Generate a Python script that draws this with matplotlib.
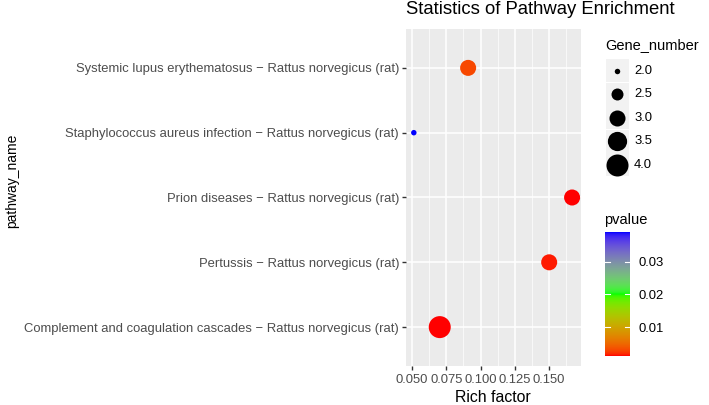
import numpy as np
import matplotlib
matplotlib.use('Agg')
import matplotlib.pyplot as plt
from matplotlib.colors import ListedColormap, Normalize
from matplotlib.patches import Rectangle

plt.rcParams['font.family'] = ['Liberation Sans', 'DejaVu Sans']

# data
pathways = ['Complement and coagulation cascades \u2212 Rattus norvegicus (rat)',
            'Pertussis \u2212 Rattus norvegicus (rat)',
            'Prion diseases \u2212 Rattus norvegicus (rat)',
            'Staphylococcus aureus infection \u2212 Rattus norvegicus (rat)',
            'Systemic lupus erythematosus \u2212 Rattus norvegicus (rat)']
rich_factor = [0.0702, 0.150, 0.1667, 0.0513, 0.0909]
gene_number = [4, 3, 3, 2, 3]
pvalue = [0.0012, 0.0014, 0.0011, 0.0392, 0.0030]

x_ticks = [0.050, 0.075, 0.100, 0.125, 0.150]
size_breaks = [2.0, 2.5, 3.0, 3.5, 4.0]
p_ticks = [0.01, 0.02, 0.03]


# ggplot style gradient (red -> green -> blue interpolated in Lab)
def srgb_to_lab(c):
    c = np.asarray(c, float)
    lin = np.where(c <= 0.04045, c / 12.92, ((c + 0.055) / 1.055) ** 2.4)
    m = np.array([[0.4124, 0.3576, 0.1805],
                  [0.2126, 0.7152, 0.0722],
                  [0.0193, 0.1192, 0.9505]])
    xyz = m @ lin / np.array([0.95047, 1.0, 1.08883])
    f = np.where(xyz > 0.008856, np.cbrt(xyz), 7.787 * xyz + 16 / 116)
    return np.array([116 * f[1] - 16, 500 * (f[0] - f[1]), 200 * (f[1] - f[2])])


def lab_to_srgb(lab):
    fy = (lab[0] + 16) / 116
    fx = fy + lab[1] / 500
    fz = fy - lab[2] / 200
    f = np.array([fx, fy, fz])
    xyz = np.where(f ** 3 > 0.008856, f ** 3, (f - 16 / 116) / 7.787)
    xyz = xyz * np.array([0.95047, 1.0, 1.08883])
    m = np.array([[3.2406, -1.5372, -0.4986],
                  [-0.9689, 1.8758, 0.0415],
                  [0.0557, -0.2040, 1.0570]])
    lin = np.clip(m @ xyz, 0, 1)
    c = np.where(lin <= 0.0031308, 12.92 * lin, 1.055 * lin ** (1 / 2.4) - 0.055)
    return np.clip(c, 0, 1)


anchors = [srgb_to_lab(c) for c in [(1, 0, 0), (0, 1, 0), (0, 0, 1)]]
cols = []
for t in np.linspace(0, 1, 256):
    seg = min(int(t * 2), 1)
    u = t * 2 - seg
    cols.append(lab_to_srgb(anchors[seg] * (1 - u) + anchors[seg + 1] * u))
cmap = ListedColormap(cols)
norm = Normalize(min(pvalue), max(pvalue))


# point area grows linearly with gene number
def point_size(g):
    d_px = np.sqrt(30 + 227 * (g - 2))
    return (d_px * 0.72) ** 2


W, H = 709, 405
fig = plt.figure(figsize=(W / 100, H / 100), dpi=100)
ax = fig.add_axes([406 / W, 1 - 366 / H, 175 / W, 337 / H])
ax.set_facecolor('#EBEBEB')
for s in ax.spines.values():
    s.set_visible(False)

ypos = np.arange(len(pathways))
ax.scatter(rich_factor, ypos, s=[point_size(g) for g in gene_number],
           c=pvalue, cmap=cmap, norm=norm, linewidths=0, zorder=3)

ax.set_xlim(0.0456, 0.1732)
ax.set_ylim(-0.6, 4.6)
ax.set_xticks(x_ticks)
ax.set_xticklabels(['%.3f' % v for v in x_ticks])
ax.set_xticks([v + 0.0125 for v in x_ticks], minor=True)
ax.set_yticks(ypos)
ax.set_yticklabels(pathways)
ax.grid(which='major', color='white', linewidth=1.1, zorder=1)
ax.grid(which='minor', axis='x', color='white', linewidth=0.5, zorder=1)
ax.set_axisbelow(True)
ax.tick_params(which='major', colors='#333333', labelcolor='#4D4D4D',
               labelsize=9.35, length=3, width=1, pad=2)
ax.tick_params(axis='x', pad=3)
ax.tick_params(which='minor', length=0)

fig.text(493 / W, 1 - 397 / H, 'Rich factor', fontsize=11.4,
         ha='center', va='center')
fig.text(12 / W, 1 - 181 / H, 'pathway_name', rotation=90, fontsize=10,
         ha='center', va='center')
fig.text(406 / W, 1 - 10 / H, 'Statistics of Pathway Enrichment', fontsize=13.3,
         ha='left', va='center')

# size legend
lax = fig.add_axes([595 / W, 1 - 180 / H, 114 / W, 145 / H])
lax.set_xlim(595, 709)
lax.set_ylim(180, 35)
lax.axis('off')
lax.text(605, 45, 'Gene_number', fontsize=10.5, ha='left', va='center')
for i, g in enumerate(size_breaks):
    yc = 70.7 + i * 23.5
    lax.add_patch(Rectangle((606, yc - 11.5), 23, 23, facecolor='#F2F2F2',
                            edgecolor='none'))
    lax.scatter([617], [yc], s=point_size(g), color='black',
                linewidths=0, zorder=3)
    lax.text(634, yc, '%.1f' % g, fontsize=9.35, color='black', ha='left',
             va='center')

# colour bar
fig.text(604 / W, 1 - 220 / H, 'pvalue', fontsize=10.5, ha='left', va='center')
cax = fig.add_axes([605 / W, 1 - 356 / H, 25 / W, 124 / H])
cax.imshow(np.linspace(0, 1, 256)[:, None], aspect='auto', cmap=cmap,
           origin='lower', extent=[0, 1, norm.vmin, norm.vmax])
cax.set_xlim(0, 1)
cax.set_ylim(norm.vmin, norm.vmax)
for s in cax.spines.values():
    s.set_visible(False)
cax.set_xticks([])
cax.yaxis.tick_right()
cax.set_yticks(p_ticks)
cax.set_yticklabels(['%.2f' % v for v in p_ticks])
cax.tick_params(axis='y', length=0, labelsize=9.35, pad=6)
for v in p_ticks:
    cax.plot([0, 0.2], [v, v], color='white', lw=0.8)
    cax.plot([0.8, 1], [v, v], color='white', lw=0.8)

fig.savefig('out.png', dpi=100)
